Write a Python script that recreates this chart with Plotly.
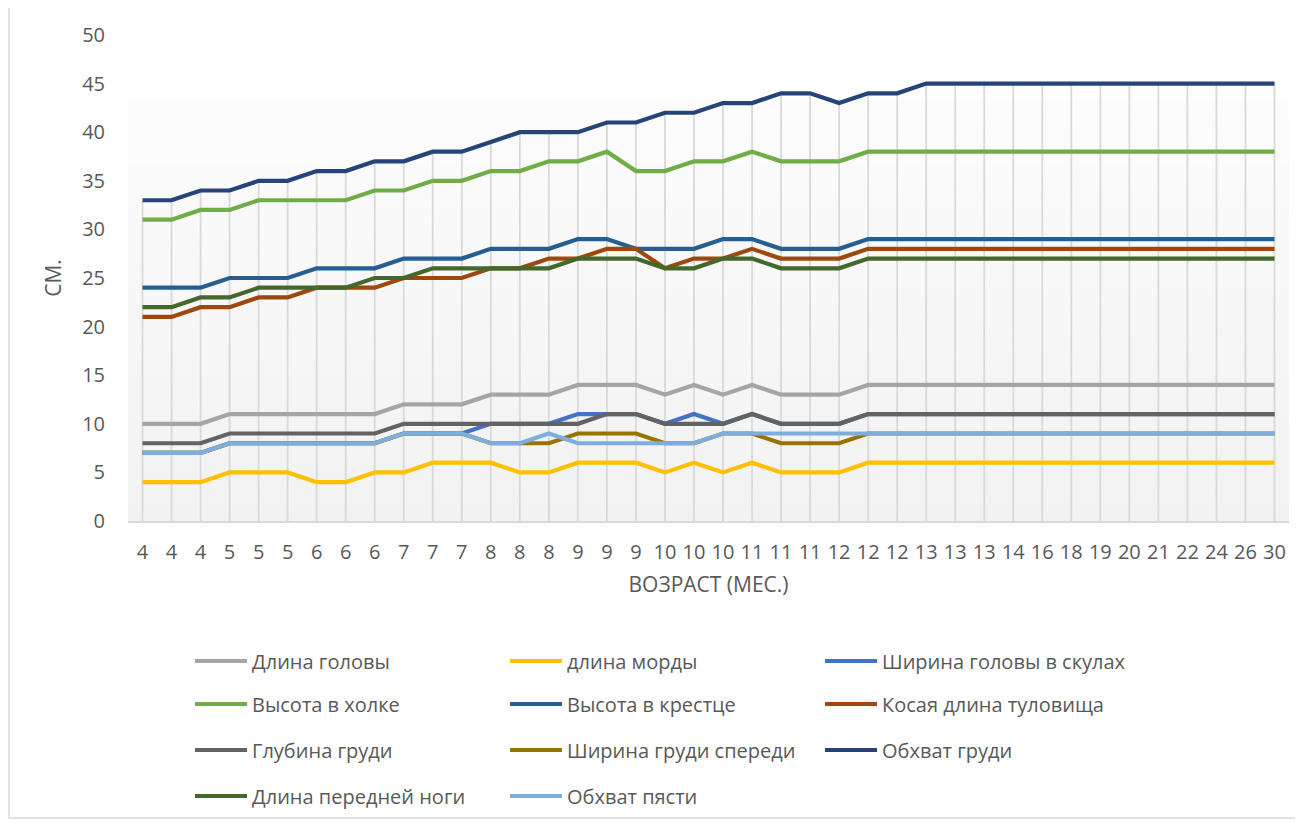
import plotly.graph_objects as go

# ---------------- data ----------------
age_labels = ["4", "4", "4", "5", "5", "5", "6", "6", "6", "7", "7", "7",
              "8", "8", "8", "9", "9", "9", "10", "10", "10", "11", "11", "11",
              "12", "12", "12", "13", "13", "13", "14", "16", "18", "19", "20",
              "21", "22", "24", "26", "30"]

head_length = [10, 10, 10, 11, 11, 11, 11, 11, 11, 12, 12, 12, 13, 13, 13, 14, 14, 14, 13, 14,
               13, 14, 13, 13, 13, 14, 14, 14, 14, 14, 14, 14, 14, 14, 14, 14, 14, 14, 14, 14]
muzzle_length = [4, 4, 4, 5, 5, 5, 4, 4, 5, 5, 6, 6, 6, 5, 5, 6, 6, 6, 5, 6,
                 5, 6, 5, 5, 5, 6, 6, 6, 6, 6, 6, 6, 6, 6, 6, 6, 6, 6, 6, 6]
head_width = [7, 7, 7, 8, 8, 8, 8, 8, 8, 9, 9, 9, 10, 10, 10, 11, 11, 11, 10, 11,
              10, 11, 10, 10, 10, 11, 11, 11, 11, 11, 11, 11, 11, 11, 11, 11, 11, 11, 11, 11]
withers_height = [31, 31, 32, 32, 33, 33, 33, 33, 34, 34, 35, 35, 36, 36, 37, 37, 38, 36, 36, 37,
                  37, 38, 37, 37, 37, 38, 38, 38, 38, 38, 38, 38, 38, 38, 38, 38, 38, 38, 38, 38]
sacrum_height = [24, 24, 24, 25, 25, 25, 26, 26, 26, 27, 27, 27, 28, 28, 28, 29, 29, 28, 28, 28,
                 29, 29, 28, 28, 28, 29, 29, 29, 29, 29, 29, 29, 29, 29, 29, 29, 29, 29, 29, 29]
body_length = [21, 21, 22, 22, 23, 23, 24, 24, 24, 25, 25, 25, 26, 26, 27, 27, 28, 28, 26, 27,
               27, 28, 27, 27, 27, 28, 28, 28, 28, 28, 28, 28, 28, 28, 28, 28, 28, 28, 28, 28]
chest_depth = [8, 8, 8, 9, 9, 9, 9, 9, 9, 10, 10, 10, 10, 10, 10, 10, 11, 11, 10, 10,
               10, 11, 10, 10, 10, 11, 11, 11, 11, 11, 11, 11, 11, 11, 11, 11, 11, 11, 11, 11]
chest_width = [7, 7, 7, 8, 8, 8, 8, 8, 8, 9, 9, 9, 8, 8, 8, 9, 9, 9, 8, 8,
               9, 9, 8, 8, 8, 9, 9, 9, 9, 9, 9, 9, 9, 9, 9, 9, 9, 9, 9, 9]
chest_girth = [33, 33, 34, 34, 35, 35, 36, 36, 37, 37, 38, 38, 39, 40, 40, 40, 41, 41, 42, 42,
               43, 43, 44, 44, 43, 44, 44, 45, 45, 45, 45, 45, 45, 45, 45, 45, 45, 45, 45, 45]
foreleg_length = [22, 22, 23, 23, 24, 24, 24, 24, 25, 25, 26, 26, 26, 26, 26, 27, 27, 27, 26, 26,
                  27, 27, 26, 26, 26, 27, 27, 27, 27, 27, 27, 27, 27, 27, 27, 27, 27, 27, 27, 27]
metacarpus_girth = [7, 7, 7, 8, 8, 8, 8, 8, 8, 9, 9, 9, 8, 8, 9, 8, 8, 8, 8, 8,
                    9, 9, 9, 9, 9, 9, 9, 9, 9, 9, 9, 9, 9, 9, 9, 9, 9, 9, 9, 9]

series_names = ["Длина головы", "длина морды", "Ширина головы в скулах",
                "Высота в холке", "Высота в крестце", "Косая длина туловища",
                "Глубина груди", "Ширина груди спереди", "Обхват груди",
                "Длина передней ноги", "Обхват пясти"]
series_values = [head_length, muzzle_length, head_width, withers_height, sacrum_height,
                 body_length, chest_depth, chest_width, chest_girth, foreleg_length,
                 metacarpus_girth]
series_colors = ["#A5A5A5", "#FFC000", "#4472C4", "#70AD47", "#255E91", "#9E480E",
                 "#636363", "#997300", "#264478", "#43682B", "#7CAFDD"]

# ---------------- style constants ----------------
FONT = "Open Sans"
TXT = "#595959"
FS = 20
OFF = 8                      # page body margin around the figure
W, H = 1303 - OFF, 822 - OFF
PLOT_L, PLOT_R, PLOT_T, PLOT_B = 128, 1289, 35, 521   # page pixel coordinates
ML, MR, MT, MB = PLOT_L - OFF, (W + OFF) - PLOT_R, PLOT_T - OFF, (H + OFF) - PLOT_B
PW, PH = PLOT_R - PLOT_L, PLOT_B - PLOT_T
BG_TOP = 43.4  # where the plot-area gradient fill becomes visible


def px_to_paper_x(px):
    return (px - PLOT_L) / PW


def px_to_paper_y(py):
    return (PLOT_B - py) / PH


x_idx = list(range(len(age_labels)))

fig = go.Figure()

# plot-area gradient background
fig.add_trace(go.Scatter(
    x=[-0.5, len(age_labels) - 0.5], y=[BG_TOP, BG_TOP], mode="none",
    fill="tozeroy",
    fillgradient=dict(type="vertical", start=0, stop=BG_TOP,
                      colorscale=[[0, "#f2f2f2"], [1, "#fcfcfc"]]),
    showlegend=False, hoverinfo="skip"))

# drop lines from highest value to the axis
tops = [max(v[i] for v in series_values) for i in x_idx]
dx, dy = [], []
for i in x_idx:
    dx += [i, i, None]
    dy += [tops[i], 0, None]
fig.add_trace(go.Scatter(x=dx, y=dy, mode="lines",
                         line=dict(color="#d9d9d9", width=1.8),
                         showlegend=False, hoverinfo="skip"))

legend_ids = ["legend", "legend", "legend", "legend2", "legend2", "legend2",
              "legend3", "legend3", "legend3", "legend4", "legend4"]

for name, vals, col, lg in zip(series_names, series_values, series_colors, legend_ids):
    fig.add_trace(go.Scatter(
        x=x_idx, y=vals, mode="lines", name=name, legend=lg,
        line=dict(color=col, width=4.2)))

row_centers = [661, 704, 750, 796]
legend_common = dict(orientation="h", xanchor="left", yanchor="middle",
                     x=px_to_paper_x(190), entrywidth=248, entrywidthmode="pixels",
                     itemwidth=52, bgcolor="rgba(0,0,0,0)",
                     font=dict(family=FONT, size=FS, color=TXT))

fig.update_layout(
    width=W, height=H,
    margin=dict(l=ML, r=MR, t=MT, b=MB, autoexpand=False),
    paper_bgcolor="white", plot_bgcolor="white",
    font=dict(family=FONT, size=FS, color=TXT),
    legend=dict(**legend_common, y=px_to_paper_y(row_centers[0])),
    legend2=dict(**legend_common, y=px_to_paper_y(row_centers[1])),
    legend3=dict(**legend_common, y=px_to_paper_y(row_centers[2])),
    legend4=dict(**legend_common, y=px_to_paper_y(row_centers[3])),
    xaxis=dict(range=[-0.5, len(age_labels) - 0.5], tickmode="array",
               tickvals=x_idx, ticktext=age_labels, showgrid=False,
               zeroline=False, showline=True, linecolor="#d9d9d9", linewidth=1.5,
               ticks="", ticklabelstandoff=12,
               tickfont=dict(family=FONT, size=FS, color=TXT),
               title=dict(text="ВОЗРАСТ (МЕС.)", standoff=14,
                          font=dict(family=FONT, size=21, color=TXT)),
               automargin=False),
    yaxis=dict(range=[0, 50], dtick=5, showgrid=False, zeroline=False,
               showline=False, ticks="", ticklabelstandoff=22,
               tickfont=dict(family=FONT, size=FS, color=TXT),
               title=dict(text="СМ.", standoff=14,
                          font=dict(family=FONT, size=21, color=TXT)),
               automargin=False),
    shapes=[dict(type="rect", xref="paper", yref="paper",
                 x0=px_to_paper_x(9), x1=px_to_paper_x(1297),
                 y0=px_to_paper_y(818), y1=px_to_paper_y(7),
                 line=dict(color="#d9d9d9", width=1.5), fillcolor="rgba(0,0,0,0)",
                 layer="below")],
)

fig.write_html("out.html")
